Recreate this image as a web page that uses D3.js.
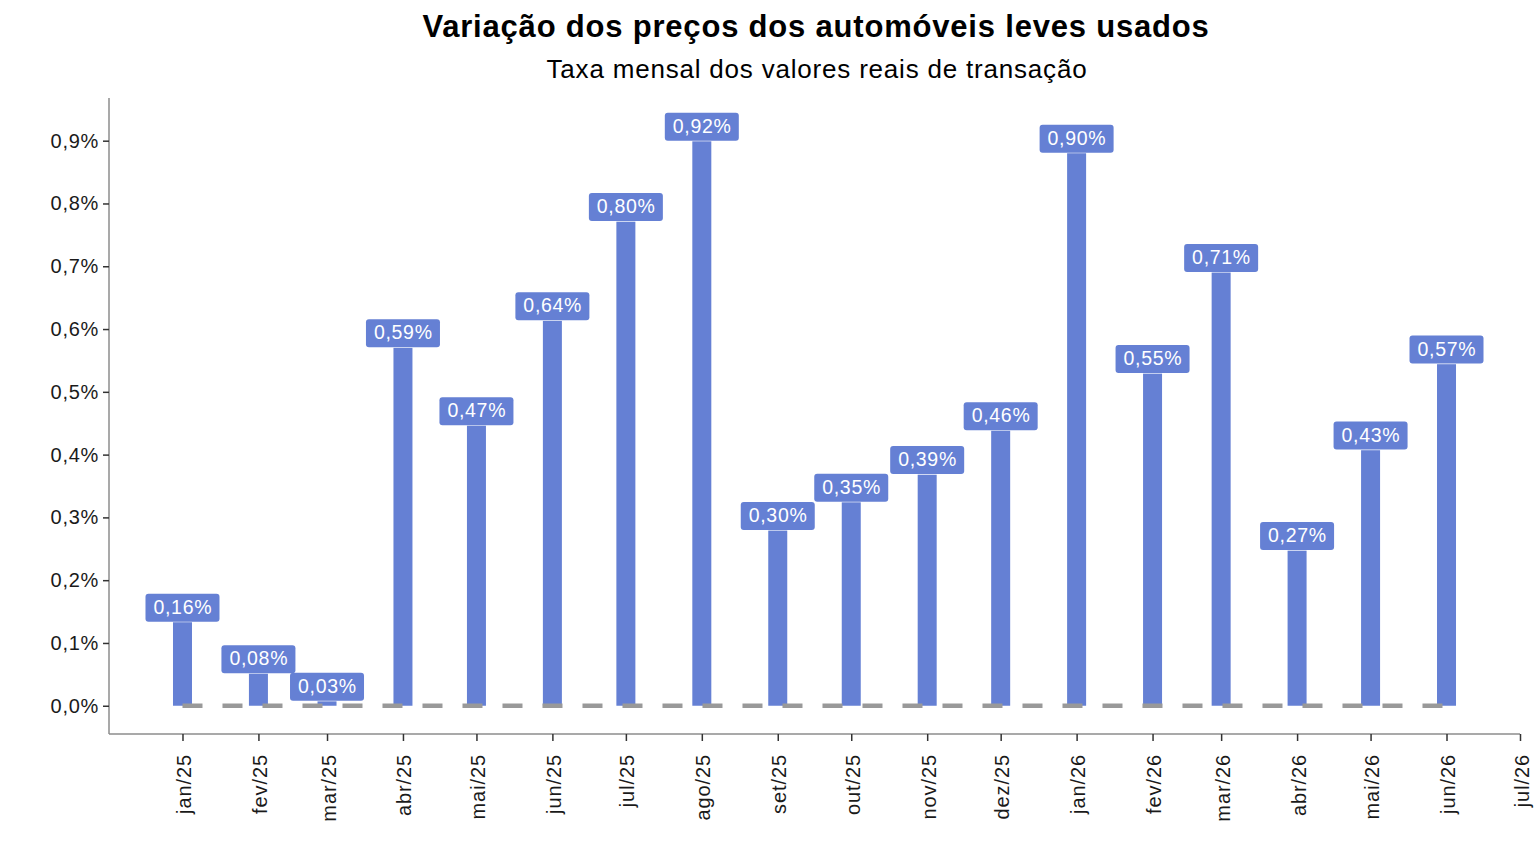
<!DOCTYPE html>
<html><head><meta charset="utf-8">
<script src="https://cdn.jsdelivr.net/npm/d3@7"></script>
<style>
body{margin:0;background:#fff;}
text{font-family:"Liberation Sans",Arial,sans-serif;}
</style></head>
<body><svg id="c" width="1536" height="864"></svg>
<script>
const months = ["2025-01","2025-02","2025-03","2025-04","2025-05","2025-06","2025-07","2025-08","2025-09","2025-10","2025-11","2025-12","2026-01","2026-02","2026-03","2026-04","2026-05","2026-06"];
const barValues = [0.133,0.051,0.007,0.570,0.446,0.613,0.771,0.899,0.279,0.324,0.368,0.438,0.880,0.529,0.690,0.247,0.407,0.544];
const labelValues = [0.16,0.08,0.03,0.59,0.47,0.64,0.80,0.92,0.30,0.35,0.39,0.46,0.90,0.55,0.71,0.27,0.43,0.57];
const yTicks = [0,0.1,0.2,0.3,0.4,0.5,0.6,0.7,0.8,0.9];
const monthNames = ["jan","fev","mar","abr","mai","jun","jul","ago","set","out","nov","dez"];
const title = "Variação dos preços dos automóveis leves usados";
const subtitle = "Taxa mensal dos valores reais de transação";

const parse = d3.timeParse("%Y-%m");
const dates = months.map(parse);
const svg = d3.select("#c");
const barColor = "#6580d4";

const x = d3.scaleTime().domain([new Date(2024,11,2), new Date(2026,6,1)]).range([109,1520]);
const y = d3.scaleLinear().domain([-0.045,0.968]).range([734,98]);

svg.append("text").attr("x",816).attr("y",37).attr("text-anchor","middle")
  .attr("font-size",31).attr("font-weight","bold").attr("fill","#000")
  .attr("letter-spacing","0.8px").text(title);
svg.append("text").attr("x",817).attr("y",78).attr("text-anchor","middle")
  .attr("font-size",26).attr("fill","#000").attr("letter-spacing","0.8px").text(subtitle);

// y axis
const yAxis = svg.append("g").attr("transform","translate(109,0)")
  .call(d3.axisLeft(y).tickValues(yTicks).tickSize(6).tickPadding(4)
    .tickFormat(d=>d3.format(".1f")(d).replace(".",",")+"%"));
yAxis.select(".domain").attr("stroke","#8c8c8c").attr("stroke-width",1.5).attr("d","M0,98V734");
yAxis.selectAll(".tick line").attr("stroke","#333").attr("stroke-width",1.5);
yAxis.selectAll(".tick text").attr("font-size",20).attr("fill","#1a1a1a").attr("letter-spacing","0.7px")
  .attr("font-family","Liberation Sans, Arial, sans-serif");

// x axis
const xTicks = d3.timeMonth.range(new Date(2025,0,1), new Date(2026,6,2));
const xAxis = svg.append("g").attr("transform","translate(0,734)")
  .call(d3.axisBottom(x).tickValues(xTicks).tickSize(7).tickPadding(0)
    .tickFormat(d=>monthNames[d.getMonth()]+"/"+String(d.getFullYear()).slice(2)));
xAxis.select(".domain").attr("stroke","#8c8c8c").attr("stroke-width",1.5).attr("d","M109,0H1520");
xAxis.selectAll(".tick line").attr("stroke","#333").attr("stroke-width",1.5);
xAxis.selectAll(".tick text").attr("font-size",20).attr("fill","#1a1a1a").attr("letter-spacing","0.9px")
  .attr("font-family","Liberation Sans, Arial, sans-serif")
  .attr("text-anchor","end").attr("dy","0.4em")
  .attr("transform","translate(0,20) rotate(-90)").attr("x",0).attr("y",0);

// bars
const bw = 19;
svg.append("g").selectAll("rect").data(barValues).join("rect")
  .attr("x",(d,i)=>x(dates[i])-bw/2).attr("width",bw)
  .attr("y",d=>y(d)).attr("height",d=>y(0)-y(d)).attr("fill",barColor);

// dashed zero line
svg.append("line").attr("x1",x(dates[0])).attr("x2",x(dates[dates.length-1]))
  .attr("y1",y(0)).attr("y2",y(0)).attr("stroke","#999").attr("stroke-width",4.5)
  .attr("stroke-dasharray","20,20");

// labels
const lg = svg.append("g").selectAll("g").data(labelValues).join("g")
  .attr("transform",(d,i)=>`translate(${x(dates[i])},${y(barValues[i])-0.6})`);
lg.each(function(d){
  const g = d3.select(this);
  const t = g.append("text").attr("text-anchor","middle").attr("y",-8)
    .attr("font-size",19.5).attr("fill","#fff").attr("letter-spacing","0.7px")
    .text(d3.format(".2f")(d).replace(".",",")+"%");
  g.insert("rect","text").attr("x",-37).attr("y",-28).attr("width",74).attr("height",28)
    .attr("rx",3).attr("fill",barColor);
  t.attr("x",0.35);
});
</script></body></html>
